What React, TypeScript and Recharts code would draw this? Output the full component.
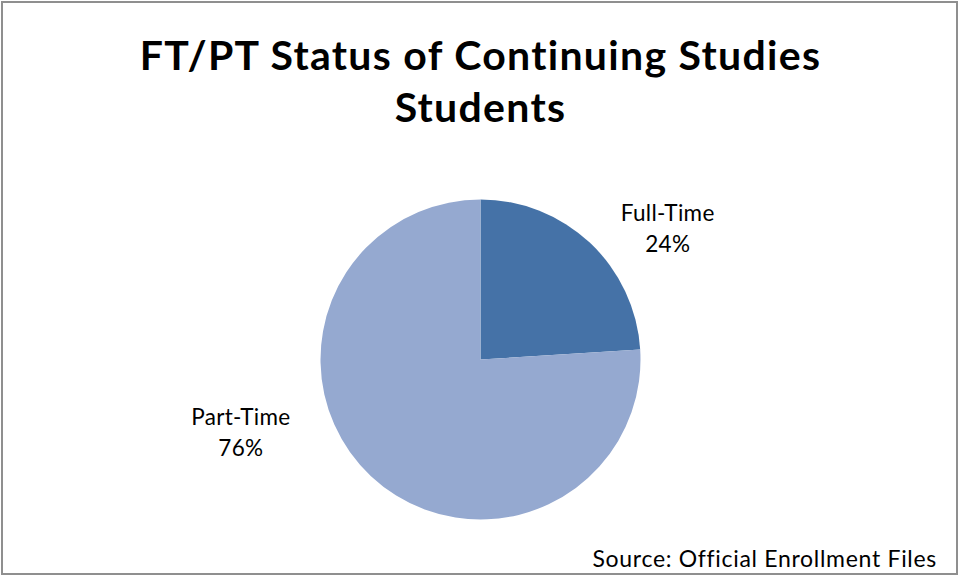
import { PieChart, Pie, Cell } from "recharts";

const categories = ["Full-Time", "Part-Time"];
const shares = [24, 76];
const colors = ["#4572A7", "#95A9D0"];

// label placement (angle in degrees, distance as multiple of radius) like Excel's best fit
const labelPos = [
  { angle: 34.8, dist: 1.425 },
  { angle: 197, dist: 1.566 },
];

const data = categories.map((name, i) => ({ name, value: shares[i] }));

const FONT = "Lato, 'Open Sans', sans-serif";

function renderLabel(props: any) {
  const { cx, cy, outerRadius, index, name, value } = props;
  const p = labelPos[index];
  const rad = (p.angle * Math.PI) / 180;
  const x = cx + Math.cos(rad) * outerRadius * p.dist;
  const y = cy - Math.sin(rad) * outerRadius * p.dist;
  return (
    <text
      x={x}
      y={y}
      textAnchor="middle"
      fill="#000"
      fontFamily={FONT}
      fontSize={22.5}
      letterSpacing={0.3}
    >
      <tspan x={x} dy={-8}>{name}</tspan>
      <tspan x={x} dy={31}>{value}%</tspan>
    </text>
  );
}

export default function App() {
  return (
    <div
      style={{
        position: "absolute",
        left: 0,
        top: 0,
        width: 961,
        height: 577,
        background: "#fff",
        fontFamily: FONT,
      }}
    >
      <div
        style={{
          position: "absolute",
          left: 1,
          top: 1,
          width: 957,
          height: 574,
          border: "2px solid #8f8f8f",
          boxSizing: "border-box",
        }}
      />
      <div
        style={{
          position: "absolute",
          left: 0,
          top: 29,
          width: 961,
          textAlign: "center",
          fontWeight: 700,
          fontSize: 41,
          letterSpacing: 1.3,
          lineHeight: "52px",
          color: "#000",
        }}
      >
        FT/PT Status of Continuing Studies
        <br />
        Students
      </div>
      <div style={{ position: "absolute", left: 0, top: 0 }}>
        <PieChart width={961} height={577} margin={{ top: 0, right: 0, bottom: 0, left: 0 }}>
          <Pie
            data={data}
            dataKey="value"
            nameKey="name"
            cx={480.5}
            cy={359.5}
            outerRadius={160}
            startAngle={90}
            endAngle={-270}
            stroke="none"
            label={renderLabel}
            labelLine={false}
            isAnimationActive={false}
          >
            {data.map((d, i) => (
              <Cell key={d.name} fill={colors[i]} />
            ))}
          </Pie>
        </PieChart>
      </div>
      <div
        style={{
          position: "absolute",
          right: 24,
          top: 544,
          fontSize: 23,
          letterSpacing: 0.7,
          color: "#000",
        }}
      >
        Source: Official Enrollment Files
      </div>
    </div>
  );
}
